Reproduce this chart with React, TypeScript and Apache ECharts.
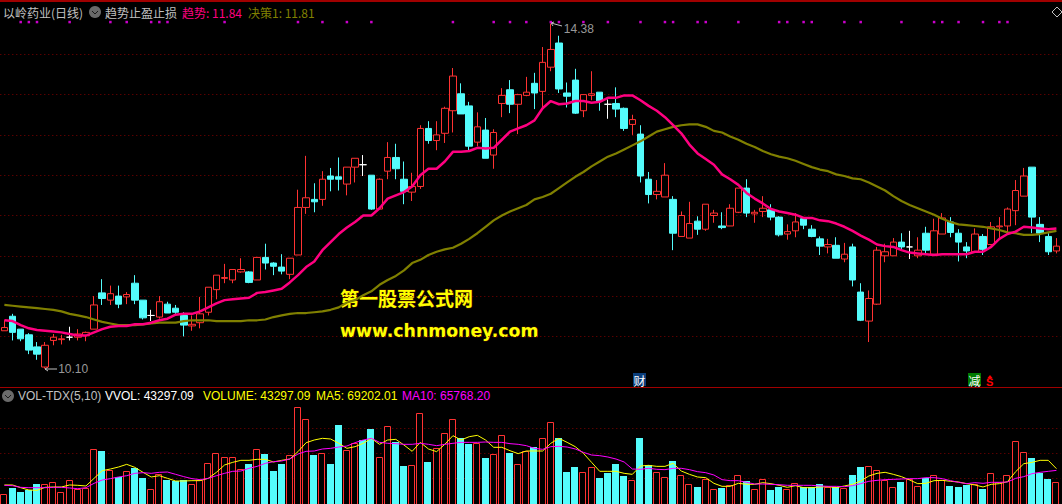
import React, { useEffect, useRef } from "react";
import * as echarts from "echarts";

// [open, close, low, high]
const ohlc: number[][] = [
  [10.57,10.61,10.57,10.70],[10.75,10.55,10.45,10.78],[10.59,10.47,10.44,10.59],[10.52,10.33,10.28,10.54],[10.37,10.28,10.21,10.43],
  [10.12,10.39,10.10,10.43],[10.45,10.49,10.39,10.53],[10.46,10.47,10.40,10.52],[10.49,10.49,10.45,10.62],[10.49,10.53,10.45,10.59],
  [10.51,10.55,10.44,10.56],[10.59,10.89,10.59,11.00],[11.04,10.97,10.89,11.21],[10.95,11.03,10.89,11.13],[11.00,10.90,10.85,11.13],
  [10.99,11.02,10.90,11.05],[11.16,10.95,10.90,11.26],[10.95,10.73,10.71,10.95],[10.76,10.76,10.69,10.83],[10.74,10.93,10.72,11.00],
  [10.90,10.79,10.79,10.93],[10.85,10.80,10.78,10.89],[10.76,10.64,10.50,10.80],[10.63,10.65,10.57,10.76],[10.67,10.78,10.60,10.99],
  [10.80,11.11,10.76,11.11],[11.08,11.26,10.96,11.26],[11.22,11.23,11.16,11.40],[11.20,11.33,11.16,11.33],[11.30,11.33,11.29,11.47],
  [11.30,11.17,11.16,11.31],[11.20,11.48,11.20,11.48],[11.48,11.41,11.33,11.65],[11.41,11.37,11.26,11.42],[11.36,11.31,11.27,11.52],
  [11.27,11.47,11.21,11.47],[11.51,12.10,11.51,12.32],[12.10,12.22,12.02,12.74],[12.20,12.17,12.04,12.40],[12.20,12.45,12.12,12.55],
  [12.49,12.45,12.30,12.59],[12.48,12.45,12.31,12.72],[12.39,12.60,12.25,12.60],[12.60,12.71,12.41,12.71],[12.63,12.63,12.49,12.75],
  [12.50,12.08,12.07,12.50],[12.08,12.45,12.08,12.46],[12.55,12.72,12.45,12.91],[12.72,12.58,12.45,12.89],[12.45,12.30,12.14,12.67],
  [12.29,12.36,12.18,12.53],[12.36,13.08,12.33,13.12],[13.08,12.93,12.89,13.17],[12.93,13.00,12.81,13.17],[13.02,13.33,12.90,13.35],
  [13.30,13.73,13.03,13.83],[13.51,13.26,13.26,13.64],[13.36,12.86,12.81,13.41],[12.91,13.10,12.86,13.28],[13.06,12.71,12.71,13.21],
  [12.75,13.03,12.58,13.07],[13.39,13.49,13.22,13.58],[13.56,13.38,13.27,13.68],[13.38,13.50,13.01,13.51],[13.49,13.53,13.48,13.72],
  [13.64,13.52,13.32,13.77],[13.54,13.90,13.31,14.09],[13.84,14.06,13.79,14.38],[14.14,13.57,13.52,14.23],[13.52,13.48,13.34,13.65],
  [13.68,13.27,13.26,13.82],[13.30,13.50,13.22,13.50],[13.49,13.51,13.43,13.79],[13.53,13.42,13.30,13.53],[13.38,13.38,13.20,13.44],
  [13.39,13.32,13.22,13.59],[13.33,13.08,13.05,13.34],[13.13,13.19,13.00,13.25],[13.01,12.49,12.41,13.12],[12.45,12.26,12.15,12.54],
  [12.26,12.30,12.20,12.44],[12.23,12.50,12.23,12.65],[12.20,11.78,11.57,12.24],[11.74,12.00,11.74,12.05],[11.72,11.90,11.72,12.17],
  [11.93,11.83,11.76,11.99],[11.83,12.14,11.81,12.14],[12.00,12.03,11.91,12.07],[11.87,11.85,11.83,12.04],[11.87,12.09,11.87,12.14],
  [12.04,12.34,12.03,12.34],[12.34,12.03,11.98,12.45],[12.02,12.04,11.91,12.07],[12.05,12.09,11.98,12.24],[12.07,11.98,11.94,12.14],
  [11.98,11.76,11.74,11.99],[11.77,11.80,11.70,11.89],[11.81,11.92,11.73,12.03],[11.96,11.88,11.83,11.98],[11.83,11.74,11.73,11.88],
  [11.71,11.62,11.51,11.74],[11.61,11.64,11.53,11.71],[11.63,11.47,11.47,11.73],[11.46,11.52,11.42,11.66],[11.61,11.20,11.12,11.65],
  [11.05,10.70,10.69,11.16],[10.69,10.97,10.43,11.07],[10.90,11.57,10.89,11.61],[11.50,11.55,11.42,11.65],[11.50,11.67,11.50,11.72],
  [11.67,11.61,11.58,11.78],[11.61,11.61,11.46,11.81],[11.50,11.57,11.47,11.73],[11.78,11.57,11.52,11.86],[11.52,11.81,11.52,11.96],
  [11.77,11.97,11.77,12.03],[11.92,11.79,11.73,11.98],[11.78,11.67,11.43,11.83],[11.61,11.56,11.47,11.67],[11.55,11.77,11.55,11.84],
  [11.74,11.58,11.51,11.77],[11.64,11.86,11.63,11.92],[11.86,11.87,11.72,11.98],[11.87,12.08,11.78,12.10],[12.06,12.31,11.88,12.44],
  [12.24,12.49,12.24,12.59],[12.60,11.98,11.78,12.60],[11.89,11.78,11.67,11.98],[11.74,11.55,11.51,11.78],[11.56,11.62,11.53,11.72],
];

const trendLine: number[] = [
  10.70,10.69,10.64,10.60,10.58,10.57,10.56,10.55,10.53,10.51,10.51,10.55,10.59,10.62,10.63,10.63,10.65,10.65,10.67,10.70,
  10.72,10.77,10.78,10.78,10.81,10.86,10.91,10.95,10.96,10.97,10.98,11.04,11.05,11.07,11.09,11.17,11.26,11.36,11.43,11.57,
  11.67,11.77,11.85,11.92,12.00,12.00,12.09,12.21,12.25,12.29,12.36,12.50,12.58,12.58,12.67,12.79,12.79,12.80,12.84,12.83,
  12.84,12.94,13.04,13.08,13.12,13.18,13.33,13.42,13.38,13.39,13.42,13.42,13.40,13.41,13.46,13.46,13.49,13.49,13.43,13.36,
  13.30,13.22,13.12,13.02,12.88,12.77,12.70,12.63,12.51,12.45,12.38,12.28,12.21,12.15,12.08,12.05,12.03,12.01,11.97,11.97,
  11.94,11.93,11.90,11.86,11.81,11.75,11.70,11.64,11.62,11.61,11.57,11.54,11.53,11.52,11.51,11.52,11.52,11.52,11.52,11.55,
  11.55,11.61,11.71,11.77,11.80,11.86,11.85,11.84,11.83,11.84,
];

const decisionLine: number[] = [
  10.89,10.88,10.87,10.86,10.85,10.84,10.83,10.81,10.78,10.76,10.74,10.71,10.68,10.66,10.64,10.64,10.64,10.65,10.66,10.67,
  10.67,10.67,10.69,10.70,10.70,10.70,10.69,10.69,10.69,10.69,10.70,10.70,10.71,10.74,10.76,10.78,10.79,10.79,10.80,10.81,
  10.83,10.86,10.92,10.95,11.01,11.06,11.14,11.20,11.25,11.32,11.41,11.45,11.51,11.55,11.58,11.60,11.65,11.71,11.78,11.86,
  11.94,12.00,12.05,12.09,12.13,12.20,12.23,12.27,12.34,12.41,12.48,12.54,12.61,12.67,12.73,12.77,12.82,12.87,12.92,12.98,
  13.04,13.07,13.10,13.12,13.13,13.13,13.10,13.05,13.03,12.98,12.94,12.89,12.85,12.80,12.76,12.73,12.71,12.68,12.64,12.60,
  12.57,12.55,12.51,12.49,12.46,12.45,12.41,12.36,12.31,12.24,12.18,12.13,12.09,12.05,12.01,11.96,11.92,11.89,11.88,11.87,
  11.86,11.84,11.82,11.79,11.78,11.76,11.76,11.77,11.79,11.81,
];

const signalDotIndex: number[] = [
  2,3,4,8,13,15,18,19,20,27,36,39,42,45,55,60,62,64,67,68,71,74,78,81,82,85,86,90,95,96,98,99,103,105,110,114,115,117,120,122,123,
];
const signalDotPrice = 14.4;
const lowLabel = { index: 5, price: 10.1, text: "10.10" };
const highLabel = { index: 67, price: 14.38, text: "14.38" };

const volumes: number[] = [
  18100,30700,22700,26000,38600,38600,42000,22700,45900,28700,30700,107700,104400,66500,53300,63900,70500,50600,28000,58600,
  46600,44600,46600,38000,46600,79800,99700,91800,91800,67900,78500,107700,98400,64500,78500,95700,191400,167500,96400,99700,
  78500,156200,106400,119700,126300,148200,91800,153500,121600,74500,75800,179400,82500,109700,139600,167500,129600,119000,119700,90400,
  97700,135600,100400,77800,104400,111700,129600,161500,130300,62500,72500,61900,71800,50600,60600,78500,54600,45900,130300,76500,
  61900,51900,84500,55900,38000,32700,47900,28000,30700,36700,55900,44600,28000,47900,26700,32700,28000,40000,32000,32000,
  38600,32000,32700,30000,56600,72500,73800,65900,46600,32000,42600,48600,34000,50600,55900,45900,34700,32700,36700,38000,
  28700,59900,42000,55900,123600,101700,90400,60600,48600,43297,
];
const volumeDownDoji: number[] = [44, 74];

const ma5: number[] = [
  36700,36700,31300,26700,26000,32000,32700,32700,36700,36000,34700,49900,65200,68500,72500,77800,71800,61900,52600,55200,
  49900,44600,44600,45300,45300,49900,61900,76500,81800,85800,85800,87800,87800,82500,85800,88400,103100,120900,126300,129600,
  128300,119700,109700,113000,
  119700,129600,117700,126300,127600,116300,103700,121600,108400,103100,117700,134900,126300,132900,135600,126300,111700,111700,105000,99100,
  104400,104400,104400,119700,129600,121600,113000,99700,81800,63900,63900,63900,59900,57900,74500,75800,73800,73800,79800,64500,57900,52600,51300,
  40000,34000,34000,40000,38000,38000,41300,39300,36000,32000,35300,31300,31300,32700,33300,31300,34700,38000,44600,54600,59900,61900,57900,53300,46600,39300,
  40000,45300,45900,44000,42600,39300,36700,32700,38000,39300,43300,63200,79100,81800,85800,85800,69202,
];
const ma10: number[] = [
  36000,35300,32000,31300,31300,31300,32000,32000,30700,29300,31300,40000,46600,49300,52600,55200,59900,61200,59900,61900,
  62500,57900,53300,49300,47300,49900,55200,59900,63900,64500,69900,73800,79800,83100,84500,88400,98400,103700,104400,108400,
  109700,112300,114300,121000,
  126300,129600,121600,119700,119000,117700,117700,119700,117700,115000,117700,119700,121600,121600,121600,122300,121600,121600,119000,117700,
  115000,109700,107700,113000,113700,112300,108400,101700,96400,95100,92400,88400,82500,68500,67900,69900,67900,67200,69900,69900,67200,63200,61200,
  56600,47300,45300,45300,42000,38600,38600,38000,37300,36000,36000,36000,36000,34700,34000,34000,33300,35300,39300,44000,45900,47300,47900,48600,49300,49300,
  51300,51300,49300,45300,42000,39300,41300,40000,42000,42000,42600,49900,53300,59200,61900,63900,65768,
];

const categories: number[] = ohlc.map((_, i) => i);

const titleStock = "以岭药业(日线)";
const titleIndicator = "趋势止盈止损";
const legendTrend = "趋势: 11.84";
const legendDecision = "决策1: 11.81";
const volTitle = "VOL-TDX(5,10)";
const volVvol = "VVOL: 43297.09";
const volVolume = "VOLUME: 43297.09";
const volMa5 = "MA5: 69202.01";
const volMa10 = "MA10: 65768.20";
const watermarkCn = "第一股票公式网";
const watermarkUrl = "www.chnmoney.com";

const RED = "#ff3232";
const CYAN = "#54fcfc";
const PINK = "#ff0080";
const OLIVE = "#808000";
const GRIDC = "#800000";
const LATIN = '"Liberation Sans", Arial, sans-serif';
const CJK = '"Noto Sans CJK SC", "Liberation Sans", sans-serif';

const text = (x: number, y: number, t: string, fill: string, extra: any = {}) => ({
  type: "text",
  x,
  y,
  silent: true,
  style: { text: t, fill, font: `12px ${CJK}`, textVerticalAlign: "middle", ...extra },
});

const chevronIcon = (cx: number, cy: number) => [
  { type: "circle", shape: { cx, cy, r: 6 }, style: { fill: "#6a6a6a" }, silent: true },
  { type: "polyline", shape: { points: [[cx - 3, cy - 1], [cx, cy + 2], [cx + 3, cy - 1]] }, style: { stroke: "#1a1a1a", lineWidth: 1, fill: "none" }, silent: true },
];

const grayLine = (points: number[][]) => ({
  type: "polyline",
  shape: { points },
  style: { stroke: "#c0c0c0", lineWidth: 1, fill: "none" },
  silent: true,
});

export default function App() {
  const ref = useRef<HTMLDivElement>(null);
  useEffect(() => {
    document.body.style.margin = "0";
    document.body.style.background = "#000";
    const chart = echarts.init(ref.current!, undefined, { renderer: "svg" });
    const dojiStyle = { color: "#fff", color0: "#fff", borderColor: "#fff", borderColor0: "#fff" };
    const gridAxisLine = {
      show: true,
      showMinLine: false,
      showMaxLine: false,
      lineStyle: { color: GRIDC, type: [1, 3] as any, width: 1 },
    };
    chart.setOption({
      animation: false,
      backgroundColor: "#000",
      grid: [
        { left: 0.3, width: 1060.2, top: 14, height: 362.7 },
        { left: 0.3, width: 1060.2, top: 403, height: 100.4 },
      ],
      xAxis: [
        { type: "category", gridIndex: 0, data: categories, show: false, boundaryGap: true },
        { type: "category", gridIndex: 1, data: categories, show: false, boundaryGap: true },
      ],
      yAxis: [
        {
          type: "value", gridIndex: 0, min: 10, max: 14.5, interval: 0.5, scale: true,
          axisLine: { show: false }, axisTick: { show: false }, axisLabel: { show: false },
          splitLine: gridAxisLine,
        },
        {
          type: "value", gridIndex: 1, min: 0, max: 200000, interval: 50000,
          axisLine: { show: false }, axisTick: { show: false }, axisLabel: { show: false },
          splitLine: gridAxisLine,
        },
      ],
      series: [
        {
          type: "candlestick",
          xAxisIndex: 0,
          yAxisIndex: 0,
          barWidth: 7,
          clip: false,
          itemStyle: { color: "#000", color0: CYAN, borderColor: RED, borderColor0: CYAN, borderWidth: 1 },
          data: ohlc.map((d) =>
            d[0] === d[1] ? { value: d, itemStyle: dojiStyle } : { value: d }
          ),
          z: 2,
        },
        { type: "line", xAxisIndex: 0, yAxisIndex: 0, data: decisionLine, symbol: "none", lineStyle: { color: OLIVE, width: 2.2 }, z: 3 },
        { type: "line", xAxisIndex: 0, yAxisIndex: 0, data: trendLine, symbol: "none", lineStyle: { color: PINK, width: 2.5 }, z: 4 },
        {
          type: "scatter",
          xAxisIndex: 0,
          yAxisIndex: 0,
          data: signalDotIndex.map((i) => [i, signalDotPrice]),
          symbol: "rect",
          symbolSize: 2.5,
          itemStyle: { color: "#ff00ff" },
          z: 5,
        },
        {
          type: "scatter",
          xAxisIndex: 0,
          yAxisIndex: 0,
          symbolSize: 0,
          data: [
            { value: [lowLabel.index, lowLabel.price], label: { formatter: lowLabel.text, offset: [13, 0] } },
            { value: [highLabel.index, highLabel.price], label: { formatter: highLabel.text, offset: [13, 5] } },
          ],
          label: { show: true, position: "right", color: "#c0c0c0", fontFamily: LATIN, fontSize: 12, distance: 0 },
          z: 6,
        },
        {
          type: "custom",
          xAxisIndex: 1,
          yAxisIndex: 1,
          data: volumes.map((v, i) => [i, v]),
          clip: false,
          renderItem: (_p: any, api: any) => {
            const i = api.value(0);
            const top = api.coord([i, api.value(1)]);
            const base = api.coord([i, 0]);
            const left = Math.floor(top[0] - 3.5);
            const y = Math.round(top[1]);
            const bottom = base[1] + 4;
            const up = ohlc[i][1] >= ohlc[i][0] && !volumeDownDoji.includes(i);
            return up
              ? { type: "rect", shape: { x: left + 0.5, y: y + 0.5, width: 6, height: bottom - y }, style: { fill: "#000", stroke: RED, lineWidth: 1 } }
              : { type: "rect", shape: { x: left, y, width: 7, height: bottom - y }, style: { fill: CYAN } };
          },
          z: 2,
        },
        { type: "line", xAxisIndex: 1, yAxisIndex: 1, data: ma5, symbol: "none", lineStyle: { color: "#ffff00", width: 1 }, z: 3 },
        { type: "line", xAxisIndex: 1, yAxisIndex: 1, data: ma10, symbol: "none", lineStyle: { color: "#ff00ff", width: 1 }, z: 4 },
      ],
      graphic: [
        { type: "rect", shape: { x: 0, y: 0, width: 1062, height: 2 }, style: { fill: "#a00000" }, silent: true },
        { type: "rect", shape: { x: 0, y: 387, width: 1062, height: 1 }, style: { fill: "#a00000" }, silent: true },
        text(3, 12, titleStock, "#c0c0c0"),
        ...chevronIcon(95, 12),
        text(105, 12, titleIndicator, "#c0c0c0"),
        text(182, 12, legendTrend, PINK),
        text(248, 12, legendDecision, OLIVE),
        ...chevronIcon(8, 396),
        text(18, 396, volTitle, "#c0c0c0", { font: `12px ${LATIN}` }),
        text(105, 396, volVvol, "#ffffff", { font: `12px ${LATIN}` }),
        text(203, 396, volVolume, "#ffff00", { font: `12px ${LATIN}` }),
        text(316, 396, volMa5, "#ffff00", { font: `12px ${LATIN}` }),
        text(402, 396, volMa10, "#ff00ff", { font: `12px ${LATIN}` }),
        grayLine([[57, 369], [45, 369], [48, 367]]),
        grayLine([[45, 369], [48, 371]]),
        grayLine([[562, 26], [551, 23], [554, 22]]),
        grayLine([[551, 23], [553, 26]]),
        grayLine([[1052, 12], [1057, 7], [1062, 12], [1057, 17], [1052, 12]]),
        text(340, 297, watermarkCn, "#ffff00", { font: `bold 19px ${CJK}`, stroke: "#401000", lineWidth: 1 }),
        text(340, 331, watermarkUrl, "#ffff00", { font: `bold 17.3px "DejaVu Sans", sans-serif`, stroke: "#401000", lineWidth: 1 }),
        { type: "rect", shape: { x: 633, y: 373, width: 13, height: 13 }, style: { fill: "#0a3d7a" }, silent: true },
        text(633.5, 380, "财", "#ffffff"),
        { type: "rect", shape: { x: 968, y: 373, width: 13, height: 13 }, style: { fill: "#007a00" }, silent: true },
        text(968.5, 380, "减", "#ffffff"),
        { type: "polygon", shape: { points: [[990, 375], [992.5, 378], [987.5, 378]] }, style: { fill: "#ff0000" }, silent: true },
        text(986, 382, "S", "#ff0000", { font: `bold 11px ${LATIN}` }),
      ],
    });
    return () => chart.dispose();
  }, []);
  return <div ref={ref} style={{ position: "fixed", left: 0, top: 0, width: 1062, height: 504, background: "#000" }} />;
}
